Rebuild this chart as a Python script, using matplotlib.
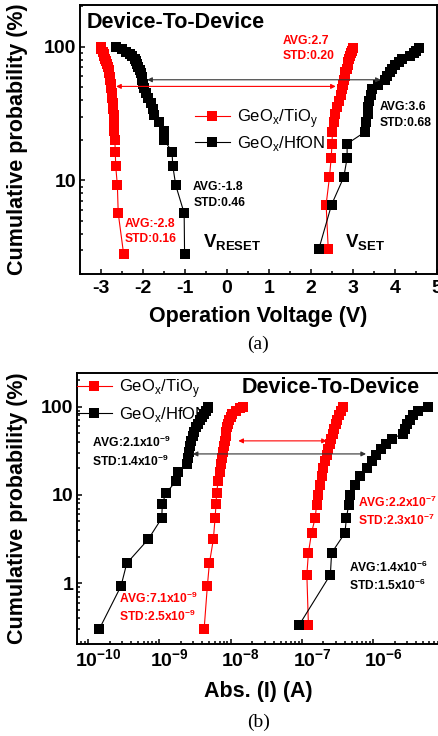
import matplotlib.pyplot as plt
import matplotlib.transforms as mtransforms
from matplotlib.lines import Line2D
from matplotlib.ticker import MultipleLocator, NullFormatter

plt.rcParams['font.family'] = ['Liberation Sans', 'DejaVu Sans']
plt.rcParams['font.weight'] = 'bold'
plt.rcParams['axes.unicode_minus'] = False
plt.rcParams['mathtext.fontset'] = 'custom'
plt.rcParams['mathtext.rm'] = 'Liberation Sans'
plt.rcParams['mathtext.bf'] = 'Liberation Sans:bold'

# ---- panel (a): operation voltage distributions ----
p_reset = [2.8, 5.7, 9.2, 12.8, 16.4, 20.0, 23.6, 27.2, 30.8, 34.4, 38.0, 41.6, 45.2, 48.8,
           52.4, 56.0, 59.6, 63.2, 66.8, 70.4, 74.0, 77.6, 81.2, 84.8, 88.4, 92.0, 95.6, 99.2]
v_reset_tio = [-2.46, -2.59, -2.61, -2.65, -2.66, -2.67, -2.69, -2.70, -2.70, -2.71, -2.72, -2.73,
               -2.74, -2.76, -2.77, -2.78, -2.79, -2.80, -2.82, -2.84, -2.86, -2.88, -2.90, -2.92,
               -2.94, -2.96, -2.99, -3.01]
v_reset_hfon = [-1.01, -1.02, -1.22, -1.29, -1.31, -1.49, -1.51, -1.62, -1.73, -1.77, -1.81, -1.87,
                -1.93, -1.97, -2.00, -2.02, -2.02, -2.05, -2.08, -2.11, -2.14, -2.17, -2.20, -2.26,
                -2.32, -2.40, -2.50, -2.64]
p_set = [3.1, 6.6, 10.6, 14.7, 18.8, 23.0, 27.2, 31.4, 35.5, 39.6, 43.8, 48.0, 52.1, 56.2,
         60.4, 64.6, 68.7, 72.8, 77.0, 81.2, 85.3, 89.4, 93.6, 97.8]
v_set_tio = [2.41, 2.36, 2.44, 2.48, 2.50, 2.51, 2.54, 2.58, 2.62, 2.67, 2.71, 2.74, 2.76, 2.78,
             2.80, 2.82, 2.85, 2.87, 2.89, 2.91, 2.93, 2.95, 2.97, 2.99]
v_set_hfon = [2.19, 2.49, 2.78, 2.86, 2.86, 3.28, 3.32, 3.35, 3.36, 3.37, 3.42, 3.45, 3.60, 3.77,
              3.82, 3.87, 3.93, 4.00, 4.10, 4.17, 4.35, 4.45, 4.50, 4.58]
# window arrows: (left, right, probability)
arrow_a_tio = (-2.64, 2.59, 50.5)
arrow_a_hfon = (-1.90, 3.66, 56.6)

# ---- panel (b): read current distributions ----
p_hrs = [0.30, 0.93, 1.68, 3.15, 5.45, 7.9, 10.4, 14.2, 18.0, 22.2, 26.5, 31.0, 36.0, 41.0,
         46.5, 52.0, 58.0, 64.0, 70.0, 76.5, 83.0, 90.0, 96.0, 100.0]
i_hrs_tio = [4.24e-9, 4.71e-9, 5.03e-9, 5.72e-9, 6.04e-9, 6.24e-9, 6.34e-9, 6.66e-9, 7.03e-9,
             7.33e-9, 7.57e-9, 7.82e-9, 8.07e-9, 8.34e-9, 8.57e-9, 8.73e-9, 8.91e-9, 9.11e-9,
             9.37e-9, 9.97e-9, 1.06e-8, 1.17e-8, 1.33e-8, 1.51e-8]
i_hrs_hfon = [1.43e-10, 2.90e-10, 3.49e-10, 7.0e-10, 1.08e-9, 1.10e-9, 1.23e-9, 1.70e-9, 1.85e-9,
              2.42e-9, 2.49e-9, 2.57e-9, 2.70e-9, 2.79e-9, 2.97e-9, 3.07e-9, 3.27e-9, 3.52e-9,
              3.72e-9, 3.97e-9, 4.24e-9, 4.52e-9, 4.74e-9, 4.87e-9]
p_lrs = [0.34, 1.25, 2.2, 3.7, 5.5, 7.6, 10.0, 13.0, 16.5, 20.0, 24.0, 28.5, 33.0, 38.0,
         43.5, 49.5, 56.0, 63.0, 71.0, 80.0, 89.0, 100.0]
i_lrs_tio = [1.23e-7, 1.17e-7, 1.23e-7, 1.36e-7, 1.53e-7, 1.60e-7, 1.68e-7, 1.79e-7, 1.90e-7,
             1.99e-7, 2.11e-7, 2.23e-7, 2.32e-7, 2.44e-7, 2.56e-7, 2.69e-7, 2.82e-7, 2.96e-7,
             3.08e-7, 3.31e-7, 3.53e-7, 3.81e-7]
i_lrs_hfon = [9.2e-8, 2.5e-7, 2.6e-7, 4.0e-7, 4.2e-7, 4.5e-7, 4.7e-7, 5.6e-7, 6.5e-7, 8.1e-7,
              9.6e-7, 1.09e-6, 1.29e-6, 1.51e-6, 1.84e-6, 2.64e-6, 2.79e-6, 2.95e-6, 3.28e-6,
              3.65e-6, 4.25e-6, 5.93e-6]
arrow_b_tio = (1.28e-8, 2.23e-7, 40.9)
arrow_b_hfon = (2.94e-9, 7.9e-7, 29.1)

x_ticks_b = [1e-10, 1e-9, 1e-8, 1e-7, 1e-6]
x_labels_b = ['10$^{\\mathbf{-10}}$', '10$^{\\mathbf{-9}}$', '10$^{\\mathbf{-8}}$',
              '10$^{\\mathbf{-7}}$', '10$^{\\mathbf{-6}}$']

RED = '#ff0000'
BLACK = '#000000'
LAB_TIO = 'GeO$_{\\mathregular{x}}$/TiO$_{\\mathregular{y}}$'
LAB_HFON = 'GeO$_{\\mathregular{x}}$/HfON'
style = dict(marker='s', ms=7.3, lw=0.8, mew=0)

W, H = 439, 736
fig = plt.figure(figsize=(W / 100, H / 100), dpi=100)


def axes_px(l, t, r, b):
    return fig.add_axes([l / W, 1 - b / H, (r - l) / W, (b - t) / H])


def dress(ax):
    for s in ax.spines.values():
        s.set_linewidth(1.4)
    ax.tick_params(which='both', direction='in', top=False, right=False, width=1.1)
    ax.tick_params(which='major', length=3.4, labelsize=14, pad=4.5)
    ax.tick_params(which='minor', length=1.9)
    ax.tick_params(axis='y', pad=2.5)


def arrow(ax, a, color):
    ax.annotate('', xy=(a[0], a[2]), xytext=(a[1], a[2]),
                arrowprops=dict(arrowstyle='<|-|>', color=color, lw=0.8,
                                mutation_scale=7, shrinkA=0, shrinkB=0))


def note(ax, fx, fy, text, color, size=8.7):
    ax.text(fx, fy, text, transform=ax.transAxes, color=color, fontsize=size,
            fontweight='bold', ha='left', va='baseline')


# ================= (a) =================
ax1 = axes_px(80, 5, 437, 274)
ax1.plot(v_reset_tio, p_reset, color=RED, **style)
ax1.plot(v_set_tio, p_set, color=RED, **style)
ax1.plot(v_reset_hfon, p_reset, color=BLACK, **style)
ax1.plot(v_set_hfon, p_set, color=BLACK, **style)
arrow(ax1, arrow_a_hfon, '#333333')
arrow(ax1, arrow_a_tio, RED)
ax1.set_yscale('log')
ax1.set_xlim(-3.5, 5)
ax1.set_ylim(2, 205)
ax1.xaxis.set_major_locator(MultipleLocator(1))
ax1.xaxis.set_minor_locator(MultipleLocator(0.5))
ax1.set_yticks([10, 100], ['10', '100'])
ax1.yaxis.set_minor_formatter(NullFormatter())
dress(ax1)
ax1.set_xlabel('Operation Voltage (V)', fontsize=15.5, fontweight='bold')
ax1.xaxis.set_label_coords(0.5, -0.118)
ax1.set_ylabel('Cumulative probability (%)', fontsize=15.5, fontweight='bold', va='center')
ax1.yaxis.set_label_coords(-0.174, 0.5)

ax1.text(0.0196, 0.916, 'Device-To-Device', transform=ax1.transAxes, fontsize=15.5,
         fontweight='bold', va='baseline')
note(ax1, 0.569, 0.854, 'AVG:2.7', RED)
note(ax1, 0.569, 0.798, 'STD:0.20', RED)
note(ax1, 0.840, 0.610, 'AVG:3.6', BLACK)
note(ax1, 0.840, 0.550, 'STD:0.68', BLACK)
note(ax1, 0.317, 0.312, 'AVG:-1.8', BLACK)
note(ax1, 0.317, 0.254, 'STD:0.46', BLACK)
note(ax1, 0.126, 0.176, 'AVG:-2.8', RED)
note(ax1, 0.126, 0.118, 'STD:0.16', RED)
note(ax1, 0.345, 0.0967, 'V$_{\\mathbf{RESET}}$', BLACK, size=13.5)
note(ax1, 0.742, 0.0967, 'V$_{\\mathbf{SET}}$', BLACK, size=13.5)

handles = [Line2D([], [], color=RED, **style), Line2D([], [], color=BLACK, **style)]
ax1.legend(handles, [LAB_TIO, LAB_HFON], loc='upper left', bbox_to_anchor=(0.322, 0.62),
           frameon=False, prop=dict(size=12, weight='normal'), handlelength=2.1,
           handletextpad=0.4, labelspacing=0.25, borderaxespad=0, borderpad=0)

# ================= (b) =================
ax2 = axes_px(77, 373, 444, 644)
ax2.plot(i_hrs_tio, p_hrs, color=RED, **style)
ax2.plot(i_lrs_tio, p_lrs, color=RED, **style)
ax2.plot(i_hrs_hfon, p_hrs, color=BLACK, **style)
ax2.plot(i_lrs_hfon, p_lrs, color=BLACK, **style)
arrow(ax2, arrow_b_tio, RED)
arrow(ax2, arrow_b_hfon, '#333333')
ax2.set_xscale('log')
ax2.set_yscale('log')
ax2.set_xlim(7e-11, 9.8e-6)
ax2.set_ylim(0.205, 240)
ax2.set_xticks(x_ticks_b, x_labels_b)
ax2.xaxis.set_minor_formatter(NullFormatter())
ax2.set_yticks([1, 10, 100], ['1', '10', '100'])
ax2.yaxis.set_minor_formatter(NullFormatter())
dress(ax2)
ax2.tick_params(axis='x', pad=3.5)
shift = mtransforms.ScaledTranslation(10 / 100, 0, fig.dpi_scale_trans)
for lab in ax2.get_xticklabels():
    lab.set_transform(lab.get_transform() + shift)
ax2.set_xlabel('Abs. (I) (A)', fontsize=15.5, fontweight='bold')
ax2.xaxis.set_label_coords(0.493, -0.138)
ax2.set_ylabel('Cumulative probability (%)', fontsize=15.5, fontweight='bold', va='center')
ax2.yaxis.set_label_coords(-0.161, 0.5)

ax2.text(0.449, 0.925, 'Device-To-Device', transform=ax2.transAxes, fontsize=15.5,
         fontweight='bold', va='baseline')
note(ax2, 0.040, 0.726, 'AVG:2.1x10$^{\\mathbf{-9}}$', BLACK)
note(ax2, 0.040, 0.657, 'STD:1.4x10$^{\\mathbf{-9}}$', BLACK)
note(ax2, 0.766, 0.507, 'AVG:2.2x10$^{\\mathbf{-7}}$', RED)
note(ax2, 0.766, 0.439, 'STD:2.3x10$^{\\mathbf{-7}}$', RED)
note(ax2, 0.742, 0.267, 'AVG:1.4x10$^{\\mathbf{-6}}$', BLACK)
note(ax2, 0.742, 0.199, 'STD:1.5x10$^{\\mathbf{-6}}$', BLACK)
note(ax2, 0.115, 0.150, 'AVG:7.1x10$^{\\mathbf{-9}}$', RED)
note(ax2, 0.115, 0.085, 'STD:2.5x10$^{\\mathbf{-9}}$', RED)

ax2.legend(handles, [LAB_TIO, LAB_HFON], loc='upper left', bbox_to_anchor=(0.0, 0.985),
           frameon=False, prop=dict(size=12, weight='normal'), handlelength=2.1,
           handletextpad=0.4, labelspacing=0.3, borderaxespad=0, borderpad=0)

fig.text(258 / W, 1 - 344 / H, '(a)', family='Liberation Serif', fontweight='normal',
         fontsize=14, ha='center', va='center')
fig.text(259 / W, 1 - 722 / H, '(b)', family='Liberation Serif', fontweight='normal',
         fontsize=14, ha='center', va='center')

fig.savefig('out.png', dpi=100)
